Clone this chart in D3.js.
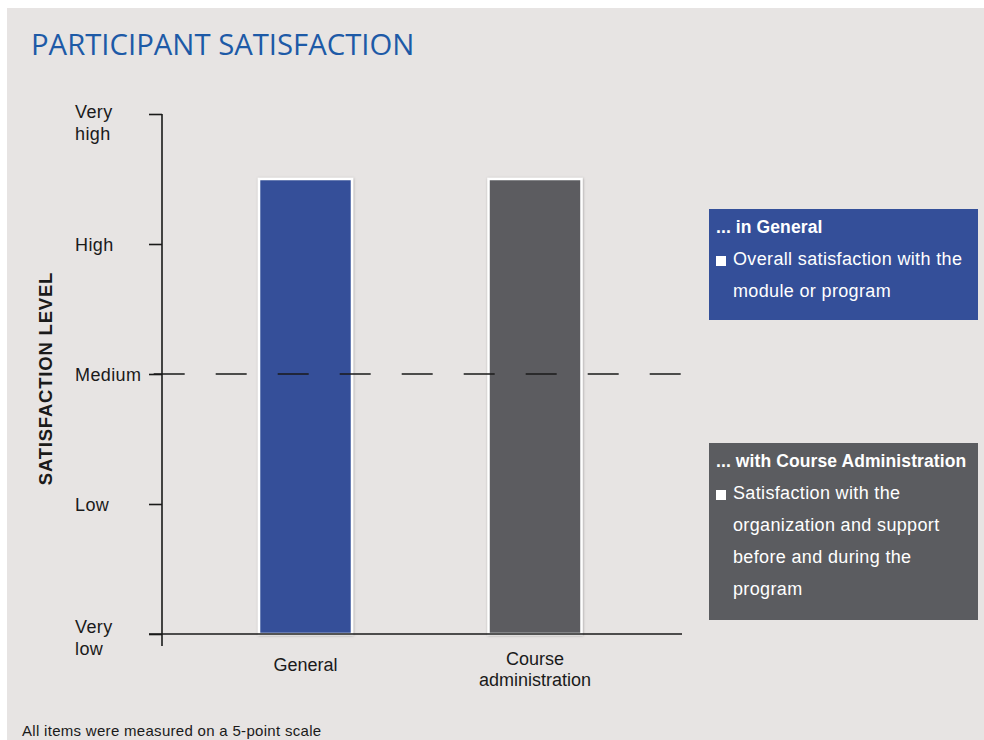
<!DOCTYPE html>
<html>
<head>
<meta charset="utf-8">
<script src="https://cdn.jsdelivr.net/npm/d3@7"></script>
<style>
  html, body { margin: 0; padding: 0; background: #ffffff; }
  svg { display: block; }
  text { font-family: "Liberation Sans", Arial, Helvetica, sans-serif; }
</style>
</head>
<body>
<svg id="chart" width="984" height="740"></svg>
<script>
// Satisfaction scale (1 = Very low ... 5 = Very high)
const levels = [1, 2, 3, 4, 5];
const levelLabels = [["Very", "low"], ["Low"], ["Medium"], ["High"], ["Very", "high"]];

// Bars
const categories = ["General", "Course administration"];
const categoryLines = [["General"], ["Course", "administration"]];
const values = [4.5, 4.5];
const barColors = ["#344f99", "#5b5c60"];

// Reference line
const midpoint = 3;

// Legend boxes
const legendTitles = ["... in General", "... with Course Administration"];
const legendLines = [
  ["Overall satisfaction with the", "module or program"],
  ["Satisfaction with the", "organization and support", "before and during the", "program"]
];

const svg = d3.select("#chart");

// panel background
svg.append("rect")
  .attr("x", 7).attr("y", 8)
  .attr("width", 977).attr("height", 732)
  .attr("fill", "#e7e4e3");

// title
svg.append("text")
  .attr("x", 31).attr("y", 55)
  .attr("fill", "#1d5aa7")
  .style("font-family", "'Open Sans', sans-serif")
  .style("font-size", "29.3px")
  .text("PARTICIPANT SATISFACTION");

const y = d3.scaleLinear().domain([1, 5]).range([634, 114]);
const x = d3.scaleBand()
  .domain(categories)
  .range([190.75, 649.75])
  .paddingInner(0.595)
  .paddingOuter(0.2975);

const axisX0 = 162;
const axisX1 = 682;

// soft shadow for bars
const defs = svg.append("defs");
const f = defs.append("filter").attr("id", "barShadow")
  .attr("x", "-10%").attr("y", "-5%").attr("width", "120%").attr("height", "110%");
f.append("feDropShadow")
  .attr("dx", 0.5).attr("dy", 0.5).attr("stdDeviation", 1.2)
  .attr("flood-color", "#000").attr("flood-opacity", 0.3);

// bars
svg.append("g").selectAll("rect")
  .data(categories)
  .join("rect")
  .attr("x", d => x(d))
  .attr("y", (d, i) => y(values[i]))
  .attr("width", x.bandwidth())
  .attr("height", (d, i) => y(1) - y(values[i]))
  .attr("fill", (d, i) => barColors[i])
  .attr("stroke", "#ffffff")
  .attr("stroke-width", 2.5)
  .attr("filter", "url(#barShadow)");

// y axis
const yAxis = d3.axisLeft(y)
  .tickValues(levels)
  .tickSize(13)
  .tickFormat("");
const gy = svg.append("g")
  .attr("transform", `translate(${axisX0},0)`)
  .call(yAxis);
gy.select(".domain")
  .attr("d", `M0,${y(5)}V${y(1) + 12}`)
  .attr("stroke", "#1a1a1a").attr("stroke-width", 1.6);
gy.selectAll(".tick line").attr("stroke", "#1a1a1a").attr("stroke-width", 1.6);

// level labels: single-line labels sit centred on their tick,
// two-line labels hang from the top tick / rise from the bottom tick
const lab = svg.append("g").selectAll("text")
  .data(levels)
  .join("text")
  .attr("x", 75)
  .attr("fill", "#1a1a1a")
  .style("font-size", "18px")
  .style("letter-spacing", "0.4px");
lab.each(function (d, i) {
  const lines = levelLabels[i];
  const t = d3.select(this);
  const lh = 22;
  let start;
  if (lines.length === 1) start = y(d) + 6.5;
  else if (d === d3.max(levels)) start = y(d) + 3.5;
  else start = y(d) - 1.5;
  lines.forEach((s, k) => {
    t.append("tspan").attr("x", 75).attr("y", start + k * lh).text(s);
  });
});

// x axis baseline
svg.append("line")
  .attr("x1", axisX0 - 13).attr("x2", axisX1)
  .attr("y1", y(1)).attr("y2", y(1))
  .attr("stroke", "#1a1a1a").attr("stroke-width", 1.6);

// dashed medium line
svg.append("line")
  .attr("x1", 153.7).attr("x2", axisX1)
  .attr("y1", y(midpoint)).attr("y2", y(midpoint))
  .attr("stroke", "#1a1a1a").attr("stroke-width", 1.4)
  .attr("stroke-dasharray", "31,31");

// category labels
svg.append("g").selectAll("text")
  .data(categories)
  .join("text")
  .attr("text-anchor", "middle")
  .attr("fill", "#1a1a1a")
  .style("font-size", "18px")
  .each(function (d, i) {
    const lines = categoryLines[i];
    const t = d3.select(this);
    const cx = x(d) + x.bandwidth() / 2;
    const start = lines.length > 1 ? 665 : 671;
    lines.forEach((s, k) => {
      t.append("tspan").attr("x", cx).attr("y", start + k * 21).text(s);
    });
  });

// y axis title
svg.append("text")
  .attr("transform", "translate(51.5,378.5) rotate(-90)")
  .attr("text-anchor", "middle")
  .attr("fill", "#1a1a1a")
  .style("font-size", "18.5px")
  .style("font-weight", "bold")
  .style("letter-spacing", "0.8px")
  .text("SATISFACTION LEVEL");

// legend boxes
const boxes = [
  { y: 209, h: 111 },
  { y: 443, h: 177 }
];
boxes.forEach((b, i) => {
  const g = svg.append("g").attr("transform", `translate(709,${b.y})`);
  g.append("rect").attr("width", 269).attr("height", b.h).attr("fill", barColors[i]);
  g.append("text")
    .attr("x", 7).attr("y", 24)
    .attr("fill", "#ffffff")
    .style("font-size", "17.5px")
    .style("font-weight", "bold")
    .style("letter-spacing", "0.1px")
    .text(legendTitles[i]);
  g.append("rect")
    .attr("x", 7).attr("y", 47)
    .attr("width", 10).attr("height", 10)
    .attr("fill", "#ffffff");
  legendLines[i].forEach((s, k) => {
    g.append("text")
      .attr("x", 24).attr("y", 56 + k * 32)
      .attr("fill", "#ffffff")
      .style("font-size", "18px")
      .style("letter-spacing", "0.35px")
      .text(s);
  });
});

// footnote
svg.append("text")
  .attr("x", 22).attr("y", 736)
  .attr("fill", "#1a1a1a")
  .style("font-size", "15px")
  .style("letter-spacing", "0.3px")
  .text("All items were measured on a 5-point scale");
</script>
</body>
</html>
